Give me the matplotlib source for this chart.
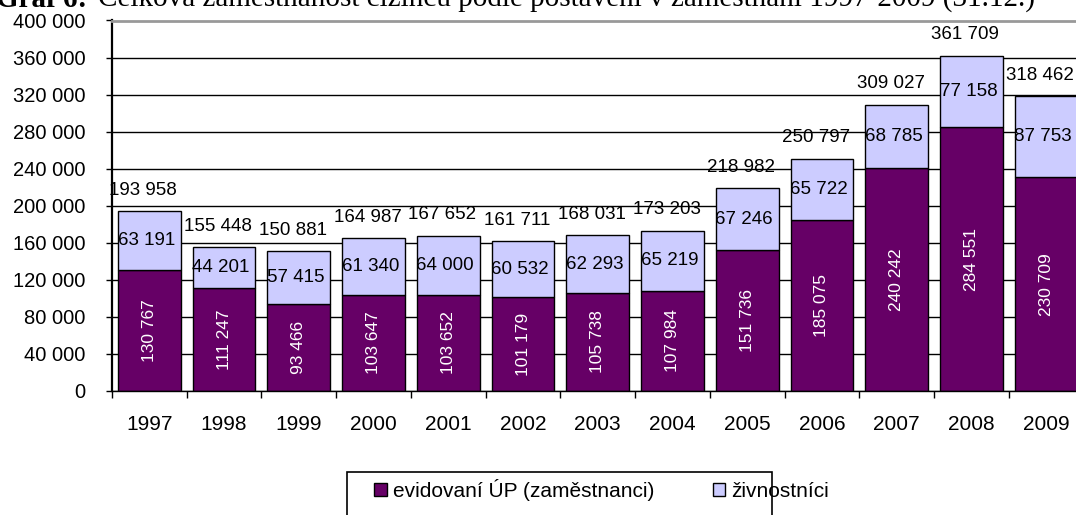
import numpy as np
import matplotlib.pyplot as plt
from matplotlib.patches import Rectangle

# data (31.12. of each year)
years = ['1997', '1998', '1999', '2000', '2001', '2002', '2003',
         '2004', '2005', '2006', '2007', '2008', '2009']
zamestnanci = [130767, 111247, 93466, 103647, 103652, 101179, 105738,
               107984, 151736, 185075, 240242, 284551, 230709]
zivnostnici = [63191, 44201, 57415, 61340, 64000, 60532, 62293,
               65219, 67246, 65722, 68785, 77158, 87753]
yticks = np.arange(0, 400001, 40000)

PURPLE = '#660066'
LAVENDER = '#CCCCFF'

def fmt(v):
    return f'{v:,}'.replace(',', ' ')

plt.rcParams['font.family'] = ['Liberation Sans', 'DejaVu Sans']

fig = plt.figure(figsize=(10.76, 5.15), dpi=100)
ax = fig.add_axes([112 / 1076, 1 - 391 / 515, 971.5 / 1076, 370.5 / 515])

x = np.arange(len(years))
zam = np.array(zamestnanci)
ziv = np.array(zivnostnici)
tot = zam + ziv

b1 = ax.bar(x, zam, width=0.84, color=PURPLE, edgecolor='black', lw=1,
            label='evidovaní ÚP (zaměstnanci)')
b2 = ax.bar(x, ziv, bottom=zam, width=0.84, color=LAVENDER, edgecolor='black',
            lw=1, label='živnostníci')

ax.set_xlim(-0.5, len(years) - 0.5)
ax.set_ylim(0, 400000)
ax.set_yticks(yticks)
ax.set_yticklabels([fmt(v) for v in yticks], fontsize=14.5)
ax.tick_params(axis='y', length=4, width=1, pad=15)
ax.set_xticks(x)
ax.set_xticklabels(years, fontsize=15)
ax.tick_params(axis='x', which='major', length=0, pad=17)
ax.set_xticks(np.arange(-0.5, len(years), 1), minor=True)
ax.tick_params(axis='x', which='minor', length=5, width=1, direction='out')

ax.set_axisbelow(True)
ax.yaxis.grid(True, color='black', lw=1)
ax.spines['left'].set_linewidth(1.6)
ax.spines['bottom'].set_linewidth(1)
ax.spines['top'].set_color('#999999')
ax.spines['top'].set_linewidth(2)
ax.spines['right'].set_visible(False)

for i in range(len(years)):
    # lower segment, rotated white label
    ax.text(x[i], zam[i] / 2, fmt(zam[i]), rotation=90, color='white',
            ha='center', va='center', fontsize=12.5)
    # upper segment label
    ax.annotate(fmt(ziv[i]), (x[i], zam[i] + ziv[i] / 2), xytext=(-3, 0),
                textcoords='offset pixels', ha='center', va='center',
                fontsize=13.5)
    # total label above the stack
    t = ax.annotate(fmt(tot[i]), (x[i], tot[i]), xytext=(-6, 21),
                    textcoords='offset pixels', ha='center', va='center',
                    fontsize=13.5, annotation_clip=False)
    t.set_clip_on(True)

# title, mostly cut off at the top like in the source
ty = 1 - 7 / 515
t1 = fig.text(-0.004, ty, 'Graf 6: ', fontsize=21, family='Liberation Serif',
              weight='bold', va='baseline', ha='left')
r = fig.canvas.get_renderer()
bb = t1.get_window_extent(r)
fig.text(bb.x1 / fig.bbox.width + 0.004, ty,
         'Celková zaměstnanost cizinců podle postavení v zaměstnání 1997-2009 (31.12.)',
         fontsize=21, family='Liberation Serif', va='baseline', ha='left')

# legend
fig.patches.append(Rectangle((347 / 1076, 1 - 540 / 515), 425 / 1076, 68 / 515,
                             transform=fig.transFigure, fill=False,
                             edgecolor='black', lw=1.2))
leg = fig.legend(handles=[b1, b2], loc='center left',
                 bbox_to_anchor=(366 / 1076, 1 - 490 / 515), ncol=2,
                 frameon=False, fontsize=15, handlelength=0.6, handleheight=0.6,
                 handletextpad=0.3, columnspacing=2.8, borderaxespad=0)

fig.savefig('out.png', dpi=100)
